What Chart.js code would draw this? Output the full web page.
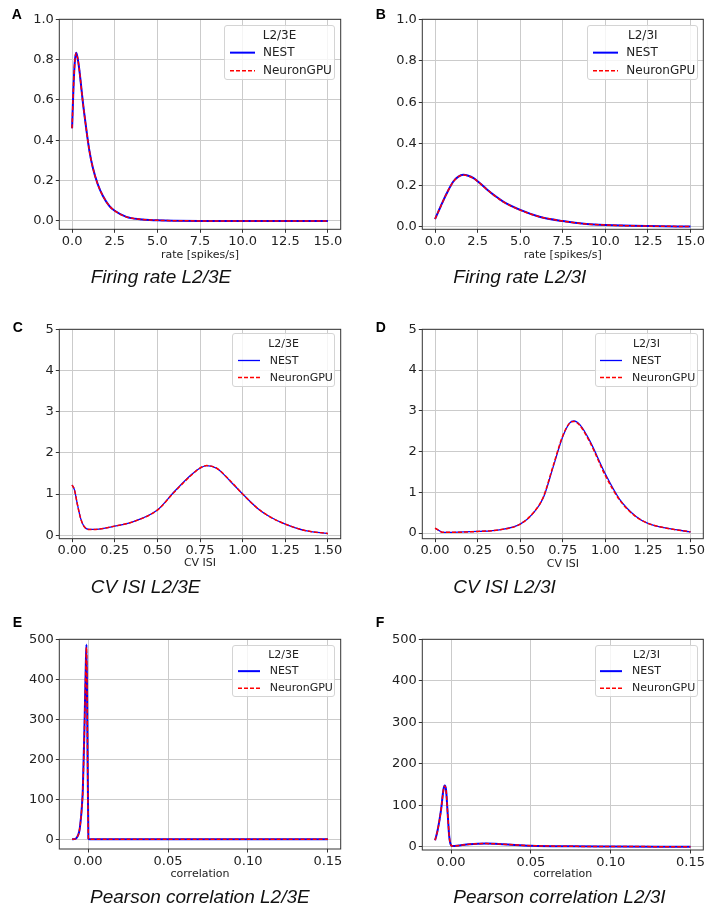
<!DOCTYPE html>
<html>
<head>
<meta charset="utf-8">
<script src="https://cdn.jsdelivr.net/npm/chart.js@4"></script>
<style>
  body { margin:0; width:708px; height:911px; background:#fff; position:relative; overflow:hidden; }
  canvas { position:absolute; }
  .letter { position:absolute; font:bold 14px "Liberation Sans", Arial, sans-serif; line-height:14px; color:#000; }
  .ptitle { position:absolute; font:italic 19px "Liberation Sans", Arial, sans-serif; line-height:19px; color:#111; white-space:nowrap; }
  .legend { position:absolute; box-sizing:border-box; border:1px solid #d4d4d4; border-radius:3px; background:rgba(255,255,255,0.8); font-family:"DejaVu Sans", sans-serif; color:#222; }
  .legend .row { display:flex; align-items:center; white-space:nowrap; }
  .legend .ttl { text-align:center; white-space:nowrap; }
  .legend svg { display:block; flex:none; }
</style>
</head>
<body>
<script>
// --- tick labels ---
const rateTicksX = [0, 2.5, 5, 7.5, 10, 12.5, 15];
const rateTicksY = [0, 0.2, 0.4, 0.6, 0.8, 1.0];
const cvTicksX = [0, 0.25, 0.5, 0.75, 1.0, 1.25, 1.5];
const cvTicksY = [0, 1, 2, 3, 4, 5];
const corrTicksX = [0, 0.05, 0.1, 0.15];
const corrTicksY = [0, 100, 200, 300, 400, 500];

// --- A: firing rate L2/3E ---
const rateX_E    = [0, 0.08, 0.16, 0.24, 0.32, 0.43, 0.62, 0.82, 1.01, 1.21, 1.5, 1.8, 2.18, 2.5, 3.18, 3.96, 5.0, 6.0, 7.5, 10, 12.5, 15];
const rateNEST_E = [0.46, 0.66, 0.79, 0.834, 0.81, 0.746, 0.598, 0.464, 0.35, 0.266, 0.183, 0.125, 0.075, 0.05, 0.02, 0.008, 0.003, 0.001, 0, 0, 0, 0];
const rateGPU_E  = [0.46, 0.66, 0.79, 0.832, 0.81, 0.745, 0.597, 0.463, 0.35, 0.266, 0.183, 0.125, 0.075, 0.05, 0.02, 0.008, 0.003, 0.001, 0, 0, 0, 0];

// --- B: firing rate L2/3I ---
const rateX_I    = [0, 0.34, 0.68, 1.07, 1.35, 1.65, 1.95, 2.26, 2.6, 3.03, 3.5, 4.0, 5.0, 6.13, 7.5, 8.9, 10, 12.5, 15];
const rateNEST_I = [0.037, 0.10, 0.16, 0.218, 0.24, 0.25, 0.246, 0.234, 0.212, 0.181, 0.15, 0.121, 0.081, 0.048, 0.027, 0.013, 0.008, 0.003, 0.001];
const rateGPU_I  = [0.037, 0.10, 0.16, 0.217, 0.24, 0.249, 0.245, 0.233, 0.211, 0.180, 0.149, 0.120, 0.080, 0.048, 0.027, 0.013, 0.008, 0.003, 0.001];

// --- C: CV ISI L2/3E ---
const cvX_E    = [0, 0.014, 0.03, 0.05, 0.069, 0.098, 0.127, 0.25, 0.36, 0.5, 0.6, 0.697, 0.75, 0.79, 0.85, 0.93, 1.0, 1.088, 1.167, 1.25, 1.36, 1.5];
const cvNEST_E = [1.22, 1.10, 0.77, 0.41, 0.22, 0.14, 0.14, 0.22, 0.33, 0.61, 1.06, 1.46, 1.63, 1.69, 1.62, 1.30, 1.0, 0.65, 0.43, 0.27, 0.12, 0.04];
const cvGPU_E  = [1.22, 1.10, 0.77, 0.41, 0.22, 0.14, 0.14, 0.22, 0.33, 0.61, 1.05, 1.45, 1.63, 1.69, 1.62, 1.31, 1.0, 0.65, 0.43, 0.27, 0.12, 0.04];

// --- D: CV ISI L2/3I ---
const cvX_I    = [0, 0.017, 0.043, 0.107, 0.25, 0.377, 0.5, 0.577, 0.635, 0.694, 0.75, 0.79, 0.815, 0.85, 0.908, 1.0, 1.084, 1.18, 1.25, 1.36, 1.5];
const cvNEST_I = [0.12, 0.08, 0.02, 0.02, 0.04, 0.08, 0.22, 0.49, 0.86, 1.63, 2.37, 2.70, 2.75, 2.66, 2.27, 1.45, 0.83, 0.41, 0.24, 0.12, 0.03];
const cvGPU_I  = [0.12, 0.08, 0.02, 0.02, 0.04, 0.08, 0.22, 0.50, 0.88, 1.66, 2.39, 2.70, 2.74, 2.64, 2.24, 1.41, 0.81, 0.40, 0.24, 0.12, 0.03];

// --- E: Pearson correlation L2/3E ---
const corrX_E    = [-0.01, -0.008, -0.0069, -0.0055, -0.0048, -0.004, -0.0033, -0.0023, -0.0014, -0.001, -0.0005, 0.0002, 0.001, 0.01, 0.05, 0.1, 0.15];
const corrNEST_E = [0, 1, 5, 20, 40, 75, 123, 273, 440, 487, 300, 2, 0, 0, 0, 0, 0];
const corrGPU_E  = [0, 1, 5, 20, 40, 74, 121, 270, 436, 480, 296, 2, 0, 0, 0, 0, 0];

// --- F: Pearson correlation L2/3I ---
const corrX_I    = [-0.01, -0.0084, -0.0063, -0.0048, -0.004, -0.0031, -0.0021, -0.0011, 0.0, 0.001, 0.0115, 0.022, 0.0325, 0.05, 0.0744, 0.1, 0.15];
const corrNEST_I = [16, 40, 88, 137, 148, 137, 80, 24, 4, 2, 6.5, 8, 6.5, 3, 1.5, 1, 0.5];
const corrGPU_I  = [16, 40, 88, 136, 147, 136, 80, 24, 4, 2, 6.5, 8, 6.5, 3, 1.5, 1, 0.5];

// panel layout (page pixels)
const panels = [
  { box:[0,0,354,300],   area:[59.3,340.7,19.3,229.3], x:[-0.75,15.75], y:[-0.0417,1], xt:rateTicksX, yt:rateTicksY, xd:1, yd:1,
    xTitle:'rate [spikes/s]', gap:25.4, xs:rateX_E, nest:rateNEST_E, gpu:rateGPU_E, nw:2, gw:1.5 },
  { box:[354,0,354,300], area:[422.3,703.3,19.3,229.3], x:[-0.75,15.75], y:[-0.0125,1], xt:rateTicksX, yt:rateTicksY, xd:1, yd:1,
    xTitle:'rate [spikes/s]', gap:25.4, xs:rateX_I, nest:rateNEST_I, gpu:rateGPU_I, nw:2, gw:1.5 },
  { box:[0,300,354,300], area:[59.3,340.7,329.3,538.7], x:[-0.075,1.575], y:[-0.085,5], xt:cvTicksX, yt:cvTicksY, xd:2, yd:0,
    xTitle:'CV ISI', gap:24.8, xs:cvX_E, nest:cvNEST_E, gpu:cvGPU_E, nw:1.3, gw:1.5 },
  { box:[354,300,354,300], area:[422.3,703.3,329.3,538.7], x:[-0.075,1.575], y:[-0.1375,5], xt:cvTicksX, yt:cvTicksY, xd:2, yd:0,
    xTitle:'CV ISI', gap:25.2, xs:cvX_I, nest:cvNEST_I, gpu:cvGPU_I, nw:1.3, gw:1.5 },
  { box:[0,600,354,311], area:[59.3,340.7,639.3,849], x:[-0.018,0.158], y:[-24.35,500], xt:corrTicksX, yt:corrTicksY, xd:2, yd:0,
    xTitle:'correlation', gap:25, xs:corrX_E, nest:corrNEST_E, gpu:corrGPU_E, nw:2, gw:1.5 },
  { box:[354,600,354,311], area:[422.3,703.3,639.3,850], x:[-0.018,0.158], y:[-7.4,500], xt:corrTicksX, yt:corrTicksY, xd:2, yd:0,
    xTitle:'correlation', gap:24, xs:corrX_I, nest:corrNEST_I, gpu:corrGPU_I, nw:2, gw:1.5 }
];

const legends = [
  { title:'L2/3E', left:224,   top:25,    w:111,   h:55,   fs:12, rowH:17.3, pad:1, padL:5,   handle:25, gap:8,  nw:2,   gw:1.5 },
  { title:'L2/3I', left:587.3, top:25,    w:111,   h:55,   fs:12, rowH:17.3, pad:1, padL:5,   handle:25, gap:8,  nw:2,   gw:1.5 },
  { title:'L2/3E', left:232.3, top:333.3, w:102.7, h:54,   fs:11, rowH:17,   pad:1, padL:4.4, handle:22, gap:10, nw:1.3, gw:1.5 },
  { title:'L2/3I', left:594.7, top:333.3, w:103.6, h:54,   fs:11, rowH:17,   pad:1, padL:4.4, handle:22, gap:10, nw:1.3, gw:1.5 },
  { title:'L2/3E', left:232.3, top:645,   w:102.7, h:51.7, fs:11, rowH:16.3, pad:1, padL:4.4, handle:22, gap:10, nw:2,   gw:1.5 },
  { title:'L2/3I', left:594.7, top:645,   w:103.6, h:51.7, fs:11, rowH:16.3, pad:1, padL:4.4, handle:22, gap:10, nw:2,   gw:1.5 }
];

const letters = [
  { t:'A', x:11.7,  base:19.3 }, { t:'B', x:375.7, base:19.3 },
  { t:'C', x:12.7,  base:331.7 }, { t:'D', x:375.7, base:331.7 },
  { t:'E', x:12.7,  base:626.7 }, { t:'F', x:375.7, base:626.7 }
];
const titles = [
  { t:'Firing rate L2/3E', x:90.7, base:283.3 }, { t:'Firing rate L2/3I', x:453.3, base:283.3 },
  { t:'CV ISI L2/3E', x:90.7, base:593.3 }, { t:'CV ISI L2/3I', x:453.3, base:593.3 },
  { t:'Pearson correlation L2/3E', x:90, base:903.3 }, { t:'Pearson correlation L2/3I', x:453.3, base:903.3 }
];

// matplotlib-like frame around the axes
const framePlugin = {
  id: 'frame',
  afterDraw(chart) {
    const { ctx, chartArea: a } = chart;
    ctx.save();
    ctx.strokeStyle = '#333';
    ctx.lineWidth = 1;
    ctx.strokeRect(a.left, a.top, a.right - a.left, a.bottom - a.top);
    ctx.restore();
  }
};

const tickFont = { family: 'DejaVu Sans', size: 13 };
const gridOpts = { color: '#cbcbcb', lineWidth: 1, tickLength: 3.5, tickColor: '#333' };

function makeChart(p) {
  const [cx, cy, cw, ch] = p.box;
  const [l, r, t, b] = p.area;
  const cv = document.createElement('canvas');
  cv.width = cw; cv.height = ch;
  cv.style.left = cx + 'px'; cv.style.top = cy + 'px';
  cv.style.width = cw + 'px'; cv.style.height = ch + 'px';
  document.body.appendChild(cv);

  const xH = p.gap + 11 * 1.2 / 2;
  new Chart(cv, {
    type: 'line',
    data: {
      datasets: [
        { label: 'NEST', data: p.xs.map((x, i) => ({ x, y: p.nest[i] })),
          borderColor: '#0000ff', borderWidth: p.nw, order: 1 },
        { label: 'NeuronGPU', data: p.xs.map((x, i) => ({ x, y: p.gpu[i] })),
          borderColor: '#ff0000', borderWidth: p.gw, borderDash: [4, 2], order: 0 }
      ]
    },
    options: {
      responsive: false,
      animation: false,
      devicePixelRatio: 1,
      layout: { padding: { left: 0, top: t - cy, right: cx + cw - r, bottom: cy + ch - b - xH } },
      elements: { point: { radius: 0 }, line: { cubicInterpolationMode: 'monotone', fill: false } },
      plugins: { legend: { display: false }, tooltip: { enabled: false } },
      scales: {
        x: {
          type: 'linear', min: p.x[0], max: p.x[1],
          afterBuildTicks: s => { s.ticks = p.xt.map(v => ({ value: v })); },
          afterFit: s => { s.height = xH; },
          ticks: { callback: v => Number(v).toFixed(p.xd), font: tickFont, color: '#222', padding: 1, maxRotation: 0, autoSkip: false },
          grid: gridOpts,
          border: { display: false },
          title: { display: true, text: p.xTitle, font: { family: 'DejaVu Sans', size: 11 }, color: '#222', padding: 0 }
        },
        y: {
          type: 'linear', min: p.y[0], max: p.y[1],
          afterBuildTicks: s => { s.ticks = p.yt.map(v => ({ value: v })); },
          afterFit: s => { s.width = l - cx; },
          ticks: { callback: v => Number(v).toFixed(p.yd), font: tickFont, color: '#222', padding: 2, autoSkip: false },
          grid: gridOpts,
          border: { display: false }
        }
      }
    },
    plugins: [framePlugin]
  });
}

function handleSvg(len, h, color, w, dashed) {
  const y = h / 2;
  const dash = dashed ? ' stroke-dasharray="4 2"' : '';
  return '<svg width="' + len + '" height="' + h + '"><line x1="0" y1="' + y + '" x2="' + len + '" y2="' + y +
    '" stroke="' + color + '" stroke-width="' + w + '"' + dash + '/></svg>';
}

function makeLegend(g) {
  const d = document.createElement('div');
  d.className = 'legend';
  d.style.left = g.left + 'px'; d.style.top = g.top + 'px';
  d.style.width = g.w + 'px'; d.style.height = g.h + 'px';
  d.style.fontSize = g.fs + 'px';
  d.style.paddingTop = g.pad + 'px';
  const rowStyle = 'height:' + g.rowH + 'px;line-height:' + g.rowH + 'px;';
  d.innerHTML =
    '<div class="ttl" style="' + rowStyle + '">' + g.title + '</div>' +
    '<div class="row" style="' + rowStyle + 'padding-left:' + g.padL + 'px">' +
      handleSvg(g.handle, g.rowH, '#0000ff', g.nw, false) + '<span style="margin-left:' + g.gap + 'px">NEST</span></div>' +
    '<div class="row" style="' + rowStyle + 'padding-left:' + g.padL + 'px">' +
      handleSvg(g.handle, g.rowH, '#ff0000', g.gw, true) + '<span style="margin-left:' + g.gap + 'px">NeuronGPU</span></div>';
  document.body.appendChild(d);
}

function addText(cls, item, baseOffset) {
  const d = document.createElement('div');
  d.className = cls;
  d.textContent = item.t;
  d.style.left = item.x + 'px';
  d.style.top = (item.base - baseOffset) + 'px';
  document.body.appendChild(d);
}

panels.forEach(makeChart);
legends.forEach(makeLegend);
letters.forEach(it => addText('letter', it, 11.85));
titles.forEach(it => addText('ptitle', it, 16.1));
</script>
</body>
</html>
